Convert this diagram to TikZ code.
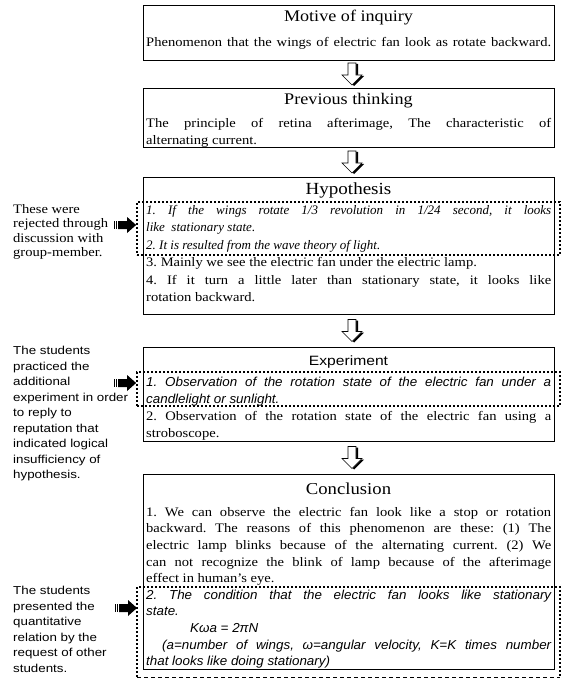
\documentclass[tikz,border=0pt]{standalone}
\usepackage{fontspec}
\setmainfont{Liberation Serif}[UprightFeatures={FakeStretch=1.12}]
\setsansfont{Liberation Sans}[UprightFeatures={FakeStretch=1.16}, ItalicFeatures={FakeStretch=1.03}]
\usetikzlibrary{calc}

\tikzset{
  panel/.style={draw=black, line width=0.8pt, minimum width=411pt, inner sep=0pt},
  dotbox/.style={draw=black, line width=1.8pt, dash pattern=on 1.8pt off 2.2pt, minimum width=423pt, inner sep=0pt},
  headline/.style={inner sep=0pt, font=\fontsize{16.2}{18}\selectfont},
  bodytext/.style={anchor=north west, inner sep=0pt, align=left, font=\fontsize{13}{17.5}\selectfont},
  sidenote/.style={anchor=north west, inner sep=0pt, align=left, font=\sffamily\fontsize{11.5}{15.5}\selectfont},
  hollowarrow/.pic={
    \fill[black, shift={(2,1)}] (-4,-11) -- (4,-11) -- (4,1) -- (10,1) -- (0,11) -- (-10,1) -- (-4,1) -- cycle;
    \filldraw[fill=white, draw=black, line width=0.6pt] (-4,-11) -- (4,-11) -- (4,1) -- (10,1) -- (0,11) -- (-10,1) -- (-4,1) -- cycle;
  },
  blackpointer/.pic={
    \fill (-22,-4) rectangle (-21,4);
    \fill (-20,-4) rectangle (-19,4);
    \fill (-18,-4) -- (-9,-4) -- (-9,-8) -- (0,0) -- (-9,8) -- (-9,4) -- (-18,4) -- cycle;
  }
}
\newcommand{\jline}[1]{\makebox[405pt][s]{#1}}

\begin{document}
\frenchspacing
\begin{tikzpicture}[x=1pt, y=-1pt]
\useasboundingbox (0,0) rectangle (566,679);

% the five stages
\node[panel, minimum height=55pt] (motive) at (348.5,32.5) {};
\node[panel, minimum height=59pt] (previous) at (348.5,117.5) {};
\node[panel, minimum height=137pt] (hypo) at (348.5,245.5) {};
\node[panel, minimum height=94pt] (expt) at (348.5,394) {};
\node[panel, minimum height=195pt] (concl) at (348.5,571.5) {};

% titles
\node[headline] (motivehead) at (348.5,18) {Motive of inquiry};
\node[headline] (previoushead) at (348.5,101) {Previous thinking};
\node[headline, font=\fontsize{17}{18}\selectfont] (hypohead) at (348.5,190) {Hypothesis};
\node[headline, font=\sffamily\fontsize{13.5}{16}\selectfont] (expthead) at (348.5,362) {Experiment};
\node[headline, font=\fontsize{16.7}{18}\selectfont] (conclhead) at (348.5,489) {Conclusion};

% contents
\node[bodytext] (motivetext) at (146,37) {\jline{Phenomenon that the wings of electric fan look as rotate backward.}};
\node[bodytext, font=\fontsize{13}{17}\selectfont] (previoustext) at (146,118) {\jline{The principle of retina afterimage, The characteristic of}\\
  alternating current.};
\node[bodytext] (hypotext) at (146,205) {\itshape\jline{1. If the wings rotate 1/3 revolution in 1/24 second, it looks}\\
  \itshape like\ \ stationary state.\\
  \itshape 2. It is resulted from the wave theory of light.\\
  3. Mainly we see the electric fan under the electric lamp.\\
  \jline{4. If it turn a little later than stationary state, it looks like}\\
  rotation backward.};
\node[bodytext, font=\fontsize{13}{17}\selectfont] (expttext) at (146,377) {\sffamily\itshape\jline{1. Observation of the rotation state of the electric fan under a}\\
  \sffamily\itshape candlelight or sunlight.\\
  \jline{2. Observation of the rotation state of the electric fan using a}\\
  stroboscope.};
\node[bodytext, font=\fontsize{13}{16.6}\selectfont] (concltext) at (146,507) {\jline{1. We can observe the electric fan look like a stop or rotation}\\
  \jline{backward. The reasons of this phenomenon are these: (1) The}\\
  \jline{electric lamp blinks because of the alternating current. (2) We}\\
  \jline{can not recognize the blink of lamp because of the afterimage}\\
  effect in human's eye.\\
  \sffamily\itshape\jline{2. The condition that the electric fan looks like stationary}\\
  \sffamily\itshape state.\\
  \sffamily\itshape\hspace{44pt}Kωa = 2πN\\
  \sffamily\itshape\hspace{16pt}\makebox[389pt][s]{(a=number of wings, ω=angular velocity, K=K times number}\\
  \sffamily\itshape that looks like doing stationary)};

% dotted marks of the revised parts
\node[dotbox, minimum height=53pt] (hypodots) at (348.5,228.5) {};
\node[dotbox, minimum height=34pt] (exptdots) at (348.5,389) {};
\draw[line width=1.8pt, dash pattern=on 1.8pt off 2.2pt] (137,677) -- (137,587) -- (560,587) -- (560,677);
\draw[line width=0.8pt, dash pattern=on 4pt off 3pt] (137,677) -- (560,677);
\coordinate (concldots) at (137,608);

% arrows between the stages
\coordinate (a1) at ($(motive.south)!0.5!(previous.north)$);
\coordinate (a2) at ($(previous.south)!0.5!(hypo.north)$);
\coordinate (a3) at ($(hypo.south)!0.5!(expt.north)$);
\coordinate (a4) at ($(expt.south)!0.5!(concl.north)$);
\foreach \a in {a1,a2,a3,a4}
  \pic at ([xshift=3.5pt]\a) {hollowarrow};

% remarks on the left
\node[sidenote, font=\fontsize{13}{14.5}\selectfont] (rejected) at (13,204) {These were\\ rejected through\\ discussion with\\ group-member.};
\node[sidenote] (practiced) at (13,346) {The students\\ practiced the\\ additional\\ experiment in order\\ to reply to\\ reputation that\\ indicated logical\\ insufficiency of\\ hypothesis.};
\node[sidenote] (presented) at (13,586) {The students\\ presented the\\ quantitative\\ relation by the\\ request of other\\ students.};
\pic at ([yshift=3.5pt]hypodots.west) {blackpointer};
\pic at ([yshift=6pt]exptdots.west) {blackpointer};
\pic at (concldots) {blackpointer};

\end{tikzpicture}
\end{document}
